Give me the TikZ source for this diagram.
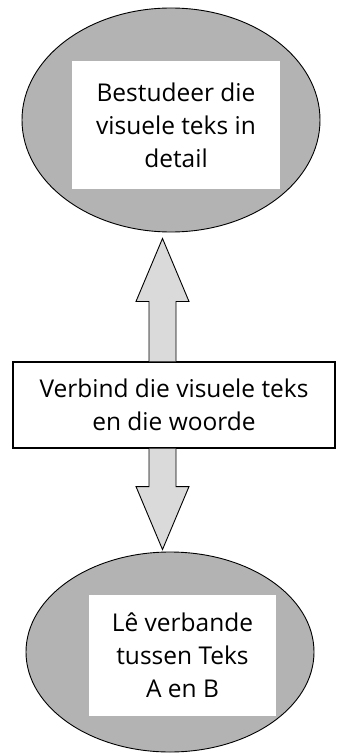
\documentclass[tikz,border=0pt]{standalone}
\usepackage{fontspec}
\setmainfont{Open Sans}
\usetikzlibrary{shapes.geometric,calc}
\definecolor{ellgray}{RGB}{179,179,179}
\definecolor{arrgray}{RGB}{218,218,218}
\begin{document}
\begin{tikzpicture}[x=1pt,y=-1pt,
  oval/.style={ellipse,draw=black,line width=0.9pt,fill=ellgray,inner sep=0pt},
  whitebox/.style={fill=white,inner sep=0pt,align=center,font=\fontsize{24.5}{33}\selectfont},
  midbox/.style={draw=black,line width=1.2pt,fill=white,inner sep=0pt,align=center,font=\fontsize{24.5}{33}\selectfont},
  fatarrow/.style={draw=black,line width=0.9pt,fill=arrgray,line join=miter}]
\useasboundingbox (0,0) rectangle (342,754);
\node[oval,minimum width=298pt,minimum height=224pt] (top) at (171,120) {};
\node[whitebox,minimum width=208pt,minimum height=128pt] (toptxt) at (176,125) {Bestudeer die\\visuele teks in\\detail};
\node[oval,minimum width=288pt,minimum height=200pt] (bot) at (170,652) {};
\node[whitebox,minimum width=187pt,minimum height=121pt] (bottxt) at (182.5,655.5) {Lê verbande\\tussen Teks\\A en B};
\node[midbox,minimum width=322pt,minimum height=86pt] (mid) at (174,405) {Verbind die visuele teks\\en die woorde};
\coordinate (ax) at (162.5,0);
\coordinate (utip) at ($(ax |- top.south)+(0,6)$);
\coordinate (ubase) at (ax |- mid.north);
\coordinate (dtip) at ($(ax |- bot.north)+(0,-2)$);
\coordinate (dbase) at (ax |- mid.south);
\draw[fatarrow] ($(ubase)+(-13.5,0)$) -- ($(utip)+(-13.5,63)$) -- ($(utip)+(-26.5,63)$) -- (utip)
  -- ($(utip)+(26.5,63)$) -- ($(utip)+(13.5,63)$) -- ($(ubase)+(13.5,0)$);
\draw[fatarrow] ($(dbase)+(-13.5,0)$) -- ($(dtip)+(-13.5,-63)$) -- ($(dtip)+(-26.5,-63)$) -- (dtip)
  -- ($(dtip)+(26.5,-63)$) -- ($(dtip)+(13.5,-63)$) -- ($(dbase)+(13.5,0)$);
\end{tikzpicture}
\end{document}
